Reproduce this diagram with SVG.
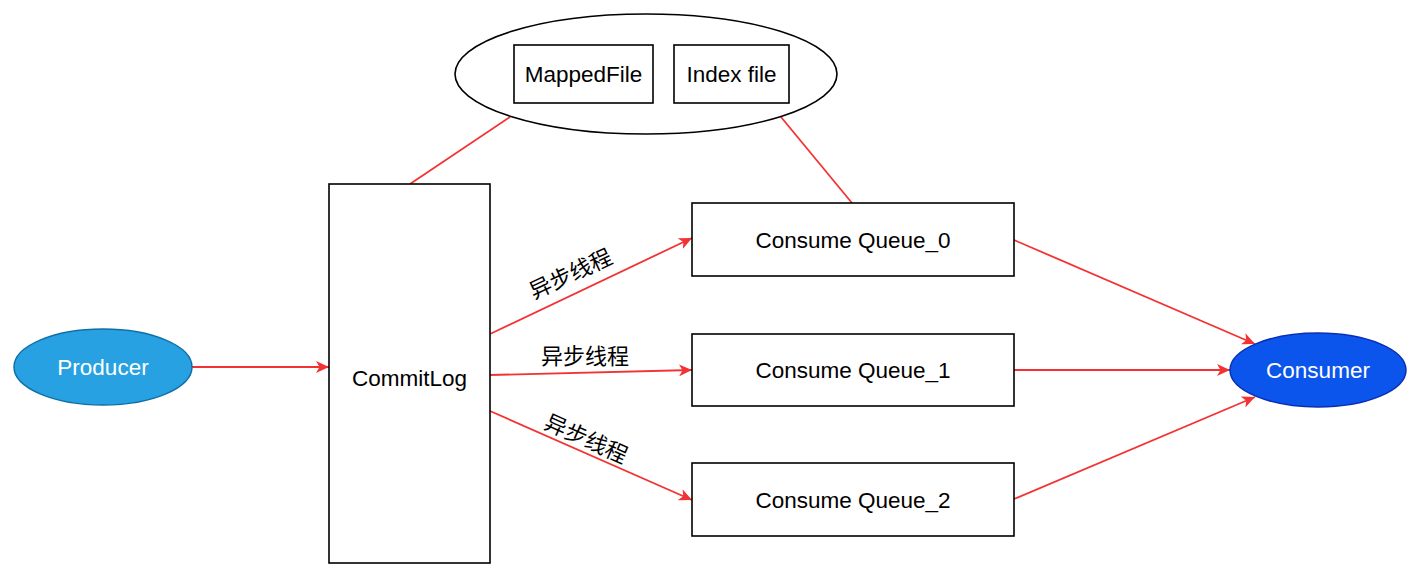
<svg xmlns="http://www.w3.org/2000/svg" width="1424" height="586" viewBox="0 0 1424 586">
<defs>
<style>
.box{fill:#ffffff;stroke:#000000;stroke-width:1.6}
.t{font-family:"Liberation Sans",Arial,"Noto Sans CJK SC",sans-serif;font-size:22.5px;fill:#000000;text-anchor:middle}
.w{fill:#ffffff}
.c{font-family:"Noto Sans CJK SC","Liberation Sans",sans-serif;font-size:22px;fill:#000000;text-anchor:middle}
.edge{stroke:#f33333;stroke-width:1.8;fill:none}
</style>
<marker id="arr" markerUnits="userSpaceOnUse" markerWidth="14" markerHeight="12" refX="13" refY="6" orient="auto">
<path d="M0,0 L13,6 L0,12 L3.5,6 Z" fill="#f33333"/>
</marker>
</defs>
<rect width="1424" height="586" fill="#ffffff"/>
<g id="connectors">
<line class="edge" x1="510" y1="117" x2="410" y2="184"/>
<line class="edge" x1="781" y1="117" x2="852" y2="203"/>
<line class="edge" x1="192" y1="367" x2="329" y2="367" marker-end="url(#arr)"/>
<line class="edge" x1="490" y1="334" x2="692" y2="238" marker-end="url(#arr)"/>
<line class="edge" x1="490" y1="375" x2="692" y2="370" marker-end="url(#arr)"/>
<line class="edge" x1="490" y1="411" x2="692" y2="500" marker-end="url(#arr)"/>
<line class="edge" x1="1014" y1="240" x2="1255" y2="344" marker-end="url(#arr)"/>
<line class="edge" x1="1014" y1="370" x2="1230" y2="370" marker-end="url(#arr)"/>
<line class="edge" x1="1014" y1="499" x2="1255" y2="397" marker-end="url(#arr)"/>
<text class="c" x="0" y="0" transform="translate(574,281) rotate(-25)">异步线程</text>
<text class="c" x="585" y="364">异步线程</text>
<text class="c" x="0" y="0" transform="translate(583,446) rotate(24)">异步线程</text>
</g>
<g id="storage">
<ellipse cx="646" cy="74" rx="191" ry="60" fill="#ffffff" stroke="#000000" stroke-width="1.6"/>
</g>
<g id="mappedfile">
<rect class="box" x="514" y="45" width="139" height="58"/>
<text class="t" x="583.5" y="82">MappedFile</text>
</g>
<g id="indexfile">
<rect class="box" x="674" y="45" width="115" height="58"/>
<text class="t" x="731.5" y="82">Index file</text>
</g>
<g id="commitlog">
<rect class="box" x="329" y="184" width="161" height="379"/>
<text class="t" x="409.5" y="386">CommitLog</text>
</g>
<g id="queue0">
<rect class="box" x="692" y="203" width="322" height="73"/>
<text class="t" x="853" y="248">Consume Queue_0</text>
</g>
<g id="queue1">
<rect class="box" x="692" y="334" width="322" height="72"/>
<text class="t" x="853" y="378">Consume Queue_1</text>
</g>
<g id="queue2">
<rect class="box" x="692" y="463" width="322" height="73"/>
<text class="t" x="853" y="508">Consume Queue_2</text>
</g>
<g id="producer">
<ellipse cx="103" cy="367" rx="89" ry="38" fill="#27a1e1" stroke="#0e6fa8" stroke-width="1.5"/>
<text class="t w" x="103" y="375">Producer</text>
</g>
<g id="consumer">
<ellipse cx="1318" cy="370" rx="88" ry="37" fill="#0b55ec" stroke="#0a2fb5" stroke-width="1.5"/>
<text class="t w" x="1318" y="378">Consumer</text>
</g>
</svg>
